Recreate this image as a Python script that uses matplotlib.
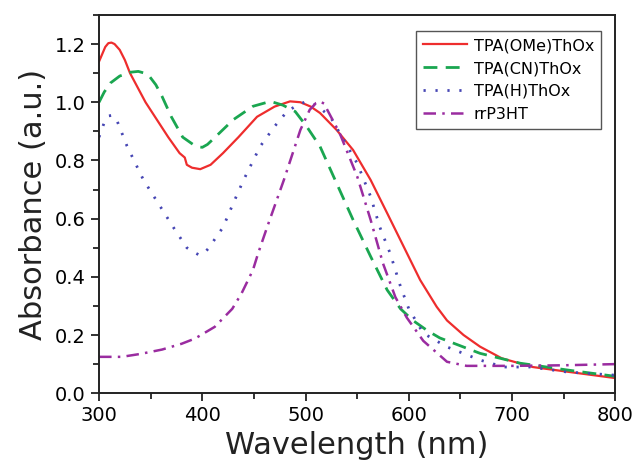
import matplotlib
matplotlib.use("Agg")
import matplotlib.pyplot as plt
from matplotlib.ticker import MultipleLocator

# absorbance spectra
ome_nm = [300, 303, 306, 309, 312, 315, 320, 325, 330, 345, 356, 367, 378, 383, 385, 390,
          398, 408, 420, 435, 453, 470, 485, 495, 505, 514, 530, 546, 563, 579, 595, 611,
          627, 637, 653, 669, 690, 720, 766, 800]
ome_abs = [1.14, 1.165, 1.19, 1.203, 1.205, 1.20, 1.18, 1.145, 1.10, 1.00, 0.94, 0.88, 0.825,
           0.81, 0.785, 0.775, 0.77, 0.785, 0.825, 0.88, 0.95, 0.985, 1.003, 1.0, 0.985,
           0.963, 0.905, 0.836, 0.733, 0.619, 0.504, 0.389, 0.297, 0.25, 0.20, 0.16, 0.12,
           0.09, 0.068, 0.052]

cn_nm = [300, 305, 311, 320, 330, 338, 344, 349, 355, 361, 370, 381, 391, 396, 400, 405,
         411, 430, 449, 466, 478, 490, 501, 514, 530, 546, 563, 579, 592, 604, 618, 630,
         669, 708, 753, 800]
cn_abs = [1.0, 1.035, 1.066, 1.09, 1.103, 1.106, 1.10, 1.088, 1.06, 1.02, 0.95, 0.88, 0.855,
          0.847, 0.845, 0.855, 0.875, 0.94, 0.986, 1.003, 0.99, 0.968, 0.917, 0.848, 0.722,
          0.596, 0.47, 0.355, 0.29, 0.25, 0.215, 0.19, 0.137, 0.103, 0.08, 0.058]

h_nm = [300, 305, 309, 313, 317, 327, 343, 356, 372, 385, 390, 397, 402, 406, 420, 430,
        440, 456, 470, 482, 492, 501, 512, 524, 537, 550, 563, 572, 582, 592, 600, 614,
        637, 669, 692, 718, 753, 800]
h_abs = [0.88, 0.93, 0.953, 0.955, 0.94, 0.85, 0.733, 0.66, 0.57, 0.50, 0.488, 0.475, 0.482,
         0.498, 0.57, 0.653, 0.733, 0.848, 0.917, 0.968, 0.99, 1.003, 0.986, 0.95, 0.87,
         0.79, 0.676, 0.57, 0.48, 0.366, 0.29, 0.206, 0.159, 0.114, 0.09, 0.09, 0.073, 0.062]

p3ht_nm = [300, 322, 340, 361, 380, 393, 412, 429, 438, 449, 454, 463, 479, 495, 504, 510,
           514, 518, 521, 533, 550, 563, 575, 587, 598, 614, 637, 656, 700, 750, 800]
p3ht_abs = [0.125, 0.125, 0.135, 0.150, 0.17, 0.188, 0.228, 0.29, 0.343, 0.423, 0.48, 0.573,
            0.733, 0.905, 0.974, 0.997, 1.003, 0.995, 0.974, 0.894, 0.745, 0.596, 0.446, 0.33,
            0.26, 0.18, 0.108, 0.094, 0.094, 0.096, 0.10]

fig = plt.figure(figsize=(6.35, 4.67), dpi=100)
ax = fig.add_axes([0.156, 0.158, 0.813, 0.81])

ax.plot(ome_nm, ome_abs, '-', color='#ee2d2d', lw=1.6, label='TPA(OMe)ThOx')
ax.plot(cn_nm, cn_abs, '--', color='#1aa650', lw=2.0, dashes=(5, 3), label='TPA(CN)ThOx')
ax.plot(h_nm, h_abs, ':', color='#4646b4', lw=2.0, dashes=(0.8, 3.5), label='TPA(H)ThOx')
ax.plot(p3ht_nm, p3ht_abs, '-.', color='#9a2ca0', lw=1.8, dashes=(5, 2.5, 1, 2.5), label='rrP3HT')

ax.set_xlim(300, 800)
ax.set_ylim(0, 1.3)
ax.xaxis.set_major_locator(MultipleLocator(100))
ax.xaxis.set_minor_locator(MultipleLocator(50))
ax.yaxis.set_major_locator(MultipleLocator(0.2))
ax.yaxis.set_minor_locator(MultipleLocator(0.1))
ax.yaxis.set_major_formatter(plt.FormatStrFormatter('%.1f'))

ax.tick_params(which='major', direction='out', length=6, width=1.3, labelsize=14, color='#222222')
ax.tick_params(which='minor', direction='out', length=4, width=1.3, color='#222222')
for sp in ax.spines.values():
    sp.set_linewidth(1.4)
    sp.set_color('#222222')

ax.set_xlabel('Wavelength (nm)', fontsize=22, color='#222222', labelpad=4)
ax.set_ylabel('Absorbance (a.u.)', fontsize=22, color='#222222', labelpad=5)

leg = ax.legend(loc='upper right', bbox_to_anchor=(0.973, 0.958), fontsize=11.5,
                fancybox=False, framealpha=1, edgecolor='#555555', handlelength=2.8,
                labelspacing=0.5, borderpad=0.45, handletextpad=0.4, borderaxespad=0)
leg.get_frame().set_linewidth(1.0)

fig.savefig('out.png', dpi=100)
